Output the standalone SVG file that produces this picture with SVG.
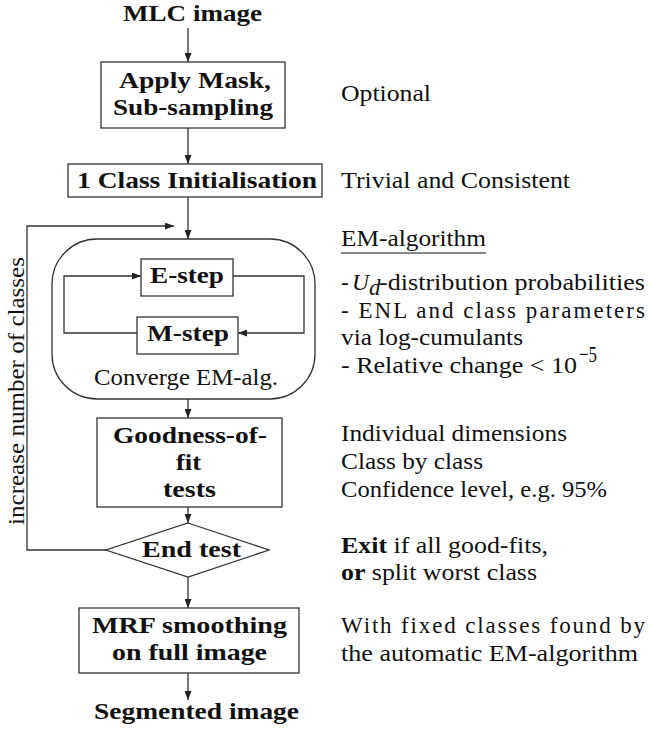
<svg xmlns="http://www.w3.org/2000/svg" width="649" height="731" viewBox="0 0 649 731" font-family="'Liberation Serif', 'Times New Roman', Times, 'DejaVu Serif', serif">
<style>
text{font-size:23px;fill:#111}
.b{font-weight:bold}
.box{fill:#fff;stroke:#333;stroke-width:1.3}
.ln{fill:none;stroke:#333;stroke-width:1.3}
</style>
<defs>
<marker id="ah" markerUnits="userSpaceOnUse" markerWidth="9" markerHeight="7" refX="9" refY="3.5" orient="auto">
<path d="M0,0 L9,3.5 L0,7 z" fill="#222"/>
</marker>
</defs>
<rect width="649" height="731" fill="#fff"/>
<g id="start"><text class="b" x="123" y="21" textLength="139" lengthAdjust="spacingAndGlyphs">MLC image</text></g>
<g id="mask">
<rect class="box" x="101" y="62" width="184" height="66"/>
<text class="b" x="119" y="88" textLength="152" lengthAdjust="spacingAndGlyphs">Apply Mask,</text>
<text class="b" x="113" y="115" textLength="160" lengthAdjust="spacingAndGlyphs">Sub-sampling</text>
</g>
<g id="init">
<rect class="box" x="68" y="164" width="254" height="33"/>
<text class="b" x="77" y="188" textLength="240" lengthAdjust="spacingAndGlyphs">1 Class Initialisation</text>
</g>
<g id="em">
<rect class="box" x="52" y="239" width="263" height="160" rx="45" ry="45"/>
<text x="94" y="385" textLength="184" lengthAdjust="spacingAndGlyphs">Converge EM-alg.</text>
</g>
<g id="estep">
<rect class="box" x="141" y="259" width="92" height="37"/>
<text class="b" x="150" y="283" textLength="74" lengthAdjust="spacingAndGlyphs">E-step</text>
</g>
<g id="mstep">
<rect class="box" x="137" y="317" width="101" height="37"/>
<text class="b" x="147" y="341" textLength="82" lengthAdjust="spacingAndGlyphs">M-step</text>
</g>
<g id="gof">
<rect class="box" x="97" y="418" width="185" height="89"/>
<text class="b" x="113" y="443" textLength="154" lengthAdjust="spacingAndGlyphs">Goodness-of-</text>
<text class="b" x="176" y="470" textLength="25" lengthAdjust="spacingAndGlyphs">fit</text>
<text class="b" x="163" y="497" textLength="53" lengthAdjust="spacingAndGlyphs">tests</text>
</g>
<g id="endtest">
<polygon class="box" points="188,523 269,550 188,577 106,550"/>
<text class="b" x="142" y="557" textLength="99" lengthAdjust="spacingAndGlyphs">End test</text>
</g>
<g id="mrf">
<rect class="box" x="79" y="608" width="220" height="65"/>
<text class="b" x="92" y="633" textLength="195" lengthAdjust="spacingAndGlyphs">MRF smoothing</text>
<text class="b" x="112" y="660" textLength="155" lengthAdjust="spacingAndGlyphs">on full image</text>
</g>
<g id="end"><text class="b" x="94" y="719" textLength="205" lengthAdjust="spacingAndGlyphs">Segmented image</text></g>
<g id="connectors">
<line class="ln" x1="188" y1="28" x2="188" y2="62" marker-end="url(#ah)"/>
<line class="ln" x1="188" y1="128" x2="188" y2="164" marker-end="url(#ah)"/>
<line class="ln" x1="188" y1="197" x2="188" y2="239" marker-end="url(#ah)"/>
<polyline class="ln" points="107,550 27,550 27,226 174,226" marker-end="url(#ah)"/>
<polyline class="ln" points="137,333 64,333 64,276 141,276" marker-end="url(#ah)"/>
<polyline class="ln" points="233,276 304,276 304,333 238,333" marker-end="url(#ah)"/>
<line class="ln" x1="188" y1="399" x2="188" y2="418" marker-end="url(#ah)"/>
<line class="ln" x1="188" y1="507" x2="188" y2="523" marker-end="url(#ah)"/>
<line class="ln" x1="188" y1="577" x2="188" y2="608" marker-end="url(#ah)"/>
<line class="ln" x1="188" y1="673" x2="188" y2="700" marker-end="url(#ah)"/>
<text x="24" y="525" transform="rotate(-90 24 525)" textLength="268" lengthAdjust="spacingAndGlyphs">increase number of classes</text>
</g>
<g id="notes">
<text x="341" y="101" textLength="90" lengthAdjust="spacingAndGlyphs">Optional</text>
<text x="341" y="188" textLength="229" lengthAdjust="spacingAndGlyphs">Trivial and Consistent</text>
<text x="341" y="246" textLength="145" lengthAdjust="spacingAndGlyphs">EM-algorithm</text>
<line x1="341" y1="253" x2="486" y2="253" stroke="#111" stroke-width="1"/>
<text x="341" y="290">-</text>
<text x="352" y="290" font-style="italic" textLength="17" lengthAdjust="spacingAndGlyphs">U</text>
<text x="369" y="295" font-style="italic" font-size="16">d</text>
<text x="379" y="290" textLength="266" lengthAdjust="spacingAndGlyphs">-distribution probabilities</text>
<text x="341" y="318" textLength="304" lengthAdjust="spacing">- ENL and class parameters</text>
<text x="341" y="345" textLength="182" lengthAdjust="spacingAndGlyphs">via log-cumulants</text>
<text x="341" y="373" textLength="236" lengthAdjust="spacingAndGlyphs">- Relative change &lt; 10</text>
<text x="579" y="362" font-size="16" textLength="18" lengthAdjust="spacingAndGlyphs">−5</text>
<text x="341" y="441" textLength="226" lengthAdjust="spacingAndGlyphs">Individual dimensions</text>
<text x="341" y="469" textLength="142" lengthAdjust="spacingAndGlyphs">Class by class</text>
<text x="341" y="497" textLength="266" lengthAdjust="spacingAndGlyphs">Confidence level, e.g. 95%</text>
<text x="341" y="553" textLength="207" lengthAdjust="spacingAndGlyphs"><tspan class="b">Exit</tspan> if all good-fits,</text>
<text x="341" y="580" textLength="196" lengthAdjust="spacingAndGlyphs"><tspan class="b">or</tspan> split worst class</text>
<text x="341" y="633" textLength="304" lengthAdjust="spacing">With fixed classes found by</text>
<text x="341" y="661" textLength="297" lengthAdjust="spacingAndGlyphs">the automatic EM-algorithm</text>
</g>
</svg>
